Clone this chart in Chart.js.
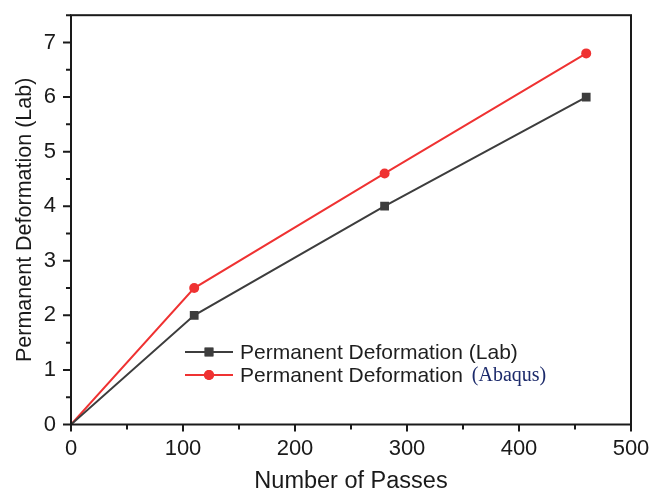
<!DOCTYPE html>
<html>
<head>
<meta charset="utf-8">
<title>Permanent Deformation vs Number of Passes</title>
<script src="https://cdn.jsdelivr.net/npm/chart.js@4.4.1/dist/chart.umd.min.js"></script>
<style>
  html, body { margin: 0; padding: 0; background: #ffffff; }
  #wrap { width: 663px; height: 491px; }
</style>
</head>
<body>
<div id="wrap"><canvas id="chart" width="663" height="491"></canvas></div>
<script>
// Measured data
const passes = [0, 110, 280, 460];
const labDeformation = [0, 2, 4, 6];
const abaqusDeformation = [0, 2.5, 4.6, 6.8];

const xTickValues = [0, 100, 200, 300, 400, 500];
const yTickValues = [0, 1, 2, 3, 4, 5, 6, 7];

const labLabel = 'Permanent Deformation (Lab)';
const abaqusLabelMain = 'Permanent Deformation ';
const abaqusLabelTail = '(Abaqus)';

const LAB_COLOR = '#3d3d3d';
const ABAQUS_COLOR = '#ef3232';
const AXIS_COLOR = '#1a1a1a';

const toPoints = (xs, ys) => xs.map((x, i) => ({ x: x, y: ys[i] }));

// Box frame plus outward major/minor ticks on the left and bottom axes
const frameAndTicks = {
  id: 'frameAndTicks',
  afterDatasetsDraw(chart) {
    const { ctx, chartArea: a, scales: { x, y } } = chart;
    ctx.save();
    ctx.strokeStyle = AXIS_COLOR;
    ctx.lineWidth = 2;
    ctx.strokeRect(a.left, a.top, a.right - a.left, a.bottom - a.top);
    ctx.beginPath();
    for (let i = 0; i < xTickValues.length; i++) {
      const v = xTickValues[i];
      const px = x.getPixelForValue(v);
      ctx.moveTo(px, a.bottom); ctx.lineTo(px, a.bottom + 7);
      if (i < xTickValues.length - 1) {
        const mv = (v + xTickValues[i + 1]) / 2;
        const mpx = x.getPixelForValue(mv);
        ctx.moveTo(mpx, a.bottom); ctx.lineTo(mpx, a.bottom + 5);
      }
    }
    for (let i = 0; i < yTickValues.length; i++) {
      const v = yTickValues[i];
      const py = y.getPixelForValue(v);
      ctx.moveTo(a.left, py); ctx.lineTo(a.left - 8, py);
      const mv = v + 0.5;
      if (mv <= y.max) {
        const mpy = y.getPixelForValue(mv);
        ctx.moveTo(a.left, mpy); ctx.lineTo(a.left - 5, mpy);
      }
    }
    ctx.stroke();
    ctx.restore();
  }
};

// Legend inside the plot, with the Abaqus tag set in a serif face
const insideLegend = {
  id: 'insideLegend',
  afterDraw(chart) {
    const { ctx } = chart;
    const rows = [
      { y: 352, color: LAB_COLOR, style: 'rect', main: labLabel, tail: '' },
      { y: 375, color: ABAQUS_COLOR, style: 'circle', main: abaqusLabelMain, tail: abaqusLabelTail }
    ];
    ctx.save();
    rows.forEach(r => {
      ctx.strokeStyle = r.color;
      ctx.lineWidth = 2;
      ctx.beginPath();
      ctx.moveTo(185, r.y); ctx.lineTo(233, r.y);
      ctx.stroke();
      ctx.fillStyle = r.color;
      Chart.helpers.drawPoint(ctx, {
        pointStyle: r.style, radius: r.style === 'rect' ? 6.2 : 5,
        rotation: 0, borderWidth: 0
      }, 209, r.y);
      ctx.fill();
      ctx.textBaseline = 'middle';
      ctx.textAlign = 'left';
      ctx.fillStyle = '#1e1e1e';
      ctx.font = '21px "Liberation Sans", Arial, sans-serif';
      ctx.fillText(r.main, 240, r.y + 1);
      if (r.tail) {
        const w = ctx.measureText(r.main).width;
        ctx.fillStyle = '#1c2a6b';
        ctx.font = '20px "Liberation Serif", "Times New Roman", serif';
        ctx.fillText(r.tail, 240 + w + 3, r.y + 1);
      }
    });
    ctx.restore();
  }
};

new Chart(document.getElementById('chart'), {
  type: 'line',
  data: {
    datasets: [
      {
        label: labLabel,
        data: toPoints(passes, labDeformation),
        borderColor: LAB_COLOR,
        backgroundColor: LAB_COLOR,
        borderWidth: 2,
        pointStyle: 'rect',
        pointRadius: ctx => (ctx.dataIndex === 0 ? 0 : 6.2),
        pointBorderWidth: 0,
        tension: 0
      },
      {
        label: abaqusLabelMain + abaqusLabelTail,
        data: toPoints(passes, abaqusDeformation),
        borderColor: ABAQUS_COLOR,
        backgroundColor: ABAQUS_COLOR,
        borderWidth: 2,
        pointStyle: 'circle',
        pointRadius: ctx => (ctx.dataIndex === 0 ? 0 : 5),
        pointBorderWidth: 0,
        tension: 0
      }
    ]
  },
  options: {
    responsive: false,
    animation: false,
    devicePixelRatio: 1,
    layout: { padding: { top: 15, right: 32, left: 0, bottom: 0 } },
    plugins: {
      legend: { display: false },
      tooltip: { enabled: false }
    },
    scales: {
      x: {
        type: 'linear',
        min: 0,
        max: 500,
        grid: { display: false, drawTicks: false },
        border: { display: false },
        afterFit(scale) { scale.height = 66.5; },
        afterBuildTicks(scale) { scale.ticks = xTickValues.map(v => ({ value: v })); },
        ticks: {
          padding: 11,
          color: '#1a1a1a',
          font: { family: '"Liberation Sans", Arial, sans-serif', size: 22 },
          callback: v => String(v)
        },
        title: {
          display: true,
          text: 'Number of Passes',
          color: '#1a1a1a',
          font: { family: '"Liberation Sans", Arial, sans-serif', size: 23.5, lineHeight: '18px' },
          padding: { top: 0, bottom: 0 }
        }
      },
      y: {
        type: 'linear',
        min: 0,
        max: 7.5,
        // tick marks come from the frame plugin; this spacing just offsets the labels
        grid: {
          display: true,
          drawOnChartArea: false,
          drawTicks: true,
          tickLength: 13,
          color: 'rgba(0,0,0,0)'
        },
        border: { display: false },
        afterFit(scale) { scale.width = 71; },
        afterBuildTicks(scale) { scale.ticks = yTickValues.map(v => ({ value: v })); },
        ticks: {
          padding: 2,
          color: '#1a1a1a',
          font: { family: '"Liberation Sans", Arial, sans-serif', size: 22 },
          callback: v => String(v)
        },
        title: {
          display: true,
          text: 'Permanent Deformation (Lab)',
          color: '#1a1a1a',
          font: { family: '"Liberation Sans", Arial, sans-serif', size: 21.5, lineHeight: 1.2 },
          padding: { top: 12.5, bottom: 0 }
        }
      }
    }
  },
  plugins: [frameAndTicks, insideLegend]
});
</script>
</body>
</html>
